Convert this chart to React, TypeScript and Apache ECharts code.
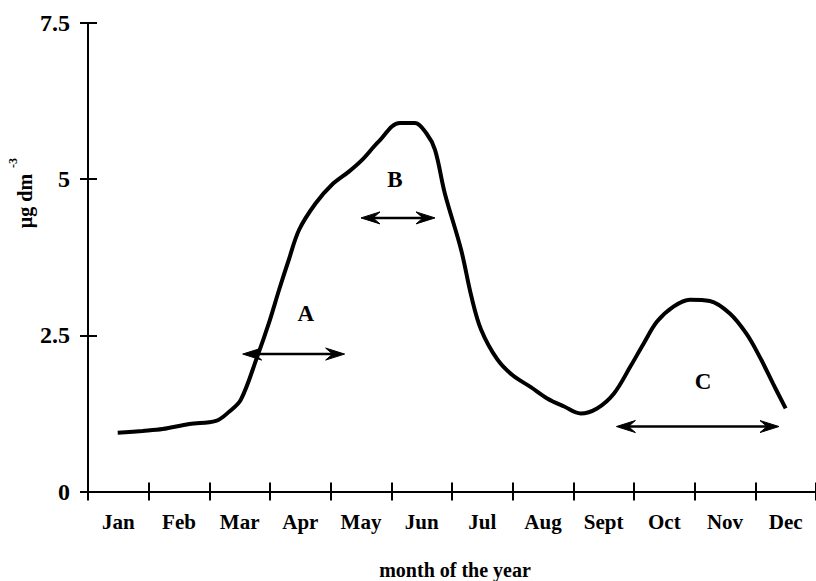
import React, { useEffect, useRef } from "react";
import * as echarts from "echarts";

// Month names shown under the axis
const months = ["Jan", "Feb", "Mar", "Apr", "May", "Jun", "Jul", "Aug", "Sept", "Oct", "Nov", "Dec"];

// Seasonal concentration curve: position in months (0 = start of January) and value in µg dm-3
const monthPos = [
  0.49, 0.9, 1.23, 1.67, 2.11, 2.33, 2.52, 2.79, 2.98, 3.15, 3.31, 3.48, 3.75, 4.02, 4.3,
  4.51, 4.79, 5.14, 5.39, 5.58, 5.72, 5.88, 6.15, 6.32, 6.48, 6.75, 7.0, 7.3, 7.57, 7.85,
  8.12, 8.39, 8.67, 8.94, 9.16, 9.38, 9.65, 9.92, 10.25, 10.58, 10.85, 11.07, 11.29, 11.5,
];
const concentration = [
  0.94, 0.97, 1.0, 1.08, 1.13, 1.28, 1.47, 2.16, 2.69, 3.23, 3.71, 4.19, 4.61, 4.91, 5.12,
  5.3, 5.6, 5.9, 5.9, 5.73, 5.47, 4.78, 3.87, 3.12, 2.59, 2.11, 1.86, 1.67, 1.49, 1.36,
  1.25, 1.33, 1.57, 2.0, 2.37, 2.72, 2.96, 3.07, 3.05, 2.85, 2.53, 2.16, 1.73, 1.33,
];

// Period arrows A, B, C: start / end month position and level
const periodNames = ["A", "B", "C"];
const periodStart = [2.55, 4.5, 8.71];
const periodEnd = [4.23, 5.72, 11.39];
const periodLevel = [2.2, 4.38, 1.04];
// Letter positions above each arrow
const periodLabelX = [3.59, 5.06, 10.14];
const periodLabelY = [2.85, 4.99, 1.76];

// Y axis ticks
const yMin = 0;
const yMax = 7.5;
const yStep = 2.5;

const FONT = "'Liberation Serif', 'Times New Roman', serif";
const INK = "#000";

export default function App() {
  const ref = useRef<HTMLDivElement>(null);

  useEffect(() => {
    if (!ref.current) return;
    const chart = echarts.init(ref.current, undefined, { renderer: "svg" });

    const curve = monthPos.map((m, i) => [m, concentration[i]]);
    const arrows = periodStart.map((s, i) => [s, periodEnd[i], periodLevel[i]]);
    const letters = periodNames.map((n, i) => [periodLabelX[i], periodLabelY[i], n]);

    const head = (tipX: number, y: number, dir: number) => ({
      type: "polygon",
      shape: {
        points: [
          [tipX, y],
          [tipX + dir * 19, y - 6],
          [tipX + dir * 12, y],
          [tipX + dir * 19, y + 6],
        ],
      },
      style: { fill: INK, stroke: INK, lineWidth: 1 },
    });

    const centered = {
      fill: INK,
      align: "center",
      verticalAlign: "middle",
      textAlign: "center",
      textVerticalAlign: "middle",
    };

    chart.setOption({
      animation: false,
      backgroundColor: "#fff",
      grid: { left: 88, top: 23, width: 732, height: 468.5 },
      xAxis: [
        {
          type: "category",
          data: months,
          position: "bottom",
          boundaryGap: true,
          axisLine: { lineStyle: { color: INK, width: 2 } },
          axisTick: { show: true, inside: false, length: 9, lineStyle: { color: INK, width: 2 } },
          axisLabel: { margin: 20, color: INK, fontFamily: FONT, fontSize: 21, fontWeight: "bold" },
          splitLine: { show: false },
        },
        {
          type: "category",
          data: months,
          position: "bottom",
          boundaryGap: true,
          axisLine: { show: false },
          axisTick: { show: true, inside: true, length: 9, lineStyle: { color: INK, width: 2 } },
          axisLabel: { show: false },
          splitLine: { show: false },
        },
        { type: "value", min: 0, max: 12, show: false },
      ],
      yAxis: [
        {
          type: "value",
          position: "left",
          min: yMin,
          max: yMax,
          interval: yStep,
          axisLine: { show: true, lineStyle: { color: INK, width: 2 } },
          axisTick: { show: true, inside: false, length: 8, lineStyle: { color: INK, width: 2 } },
          axisLabel: { margin: 18, color: INK, fontFamily: FONT, fontSize: 24, fontWeight: "bold" },
          splitLine: { show: false },
        },
        {
          type: "value",
          position: "left",
          offset: 0,
          min: yMin,
          max: yMax,
          interval: yStep,
          axisLine: { show: false },
          axisTick: { show: true, inside: true, length: 9, lineStyle: { color: INK, width: 2 } },
          axisLabel: { show: false },
          splitLine: { show: false },
        },
      ],
      graphic: [
        {
          type: "text",
          x: 455,
          y: 570,
          style: { ...centered, text: "month of the year", font: `bold 20px ${FONT}` },
        },
        {
          type: "text",
          x: 25,
          y: 201,
          rotation: Math.PI / 2,
          style: { ...centered, text: "µg dm", font: `bold 20px ${FONT}` },
        },
        {
          type: "text",
          x: 13,
          y: 163,
          rotation: Math.PI / 2,
          style: { ...centered, text: "-3", font: `bold 12px ${FONT}` },
        },
      ],
      series: [
        {
          type: "line",
          xAxisIndex: 2,
          yAxisIndex: 0,
          data: curve,
          smooth: 0.35,
          showSymbol: false,
          symbol: "none",
          lineStyle: { color: INK, width: 4 },
          z: 3,
        },
        {
          type: "custom",
          xAxisIndex: 2,
          yAxisIndex: 0,
          data: arrows,
          renderItem: (_params: any, api: any) => {
            const a = api.coord([api.value(0), api.value(2)]);
            const b = api.coord([api.value(1), api.value(2)]);
            return {
              type: "group",
              children: [
                {
                  type: "line",
                  shape: { x1: a[0] + 8, y1: a[1], x2: b[0] - 8, y2: b[1] },
                  style: { stroke: INK, lineWidth: 2.5 },
                },
                head(a[0], a[1], 1),
                head(b[0], b[1], -1),
              ],
            };
          },
          z: 4,
        },
        {
          type: "custom",
          xAxisIndex: 2,
          yAxisIndex: 0,
          data: letters,
          renderItem: (params: any, api: any) => {
            const p = api.coord([api.value(0), api.value(1)]);
            return {
              type: "text",
              x: p[0],
              y: p[1],
              style: { ...centered, text: periodNames[params.dataIndex], font: `bold 23px ${FONT}` },
            };
          },
          z: 4,
        },
      ],
    });

    return () => chart.dispose();
  }, []);

  return (
    <div
      ref={ref}
      style={{ position: "fixed", left: 0, top: 0, width: 816, height: 581, background: "#fff" }}
    />
  );
}
